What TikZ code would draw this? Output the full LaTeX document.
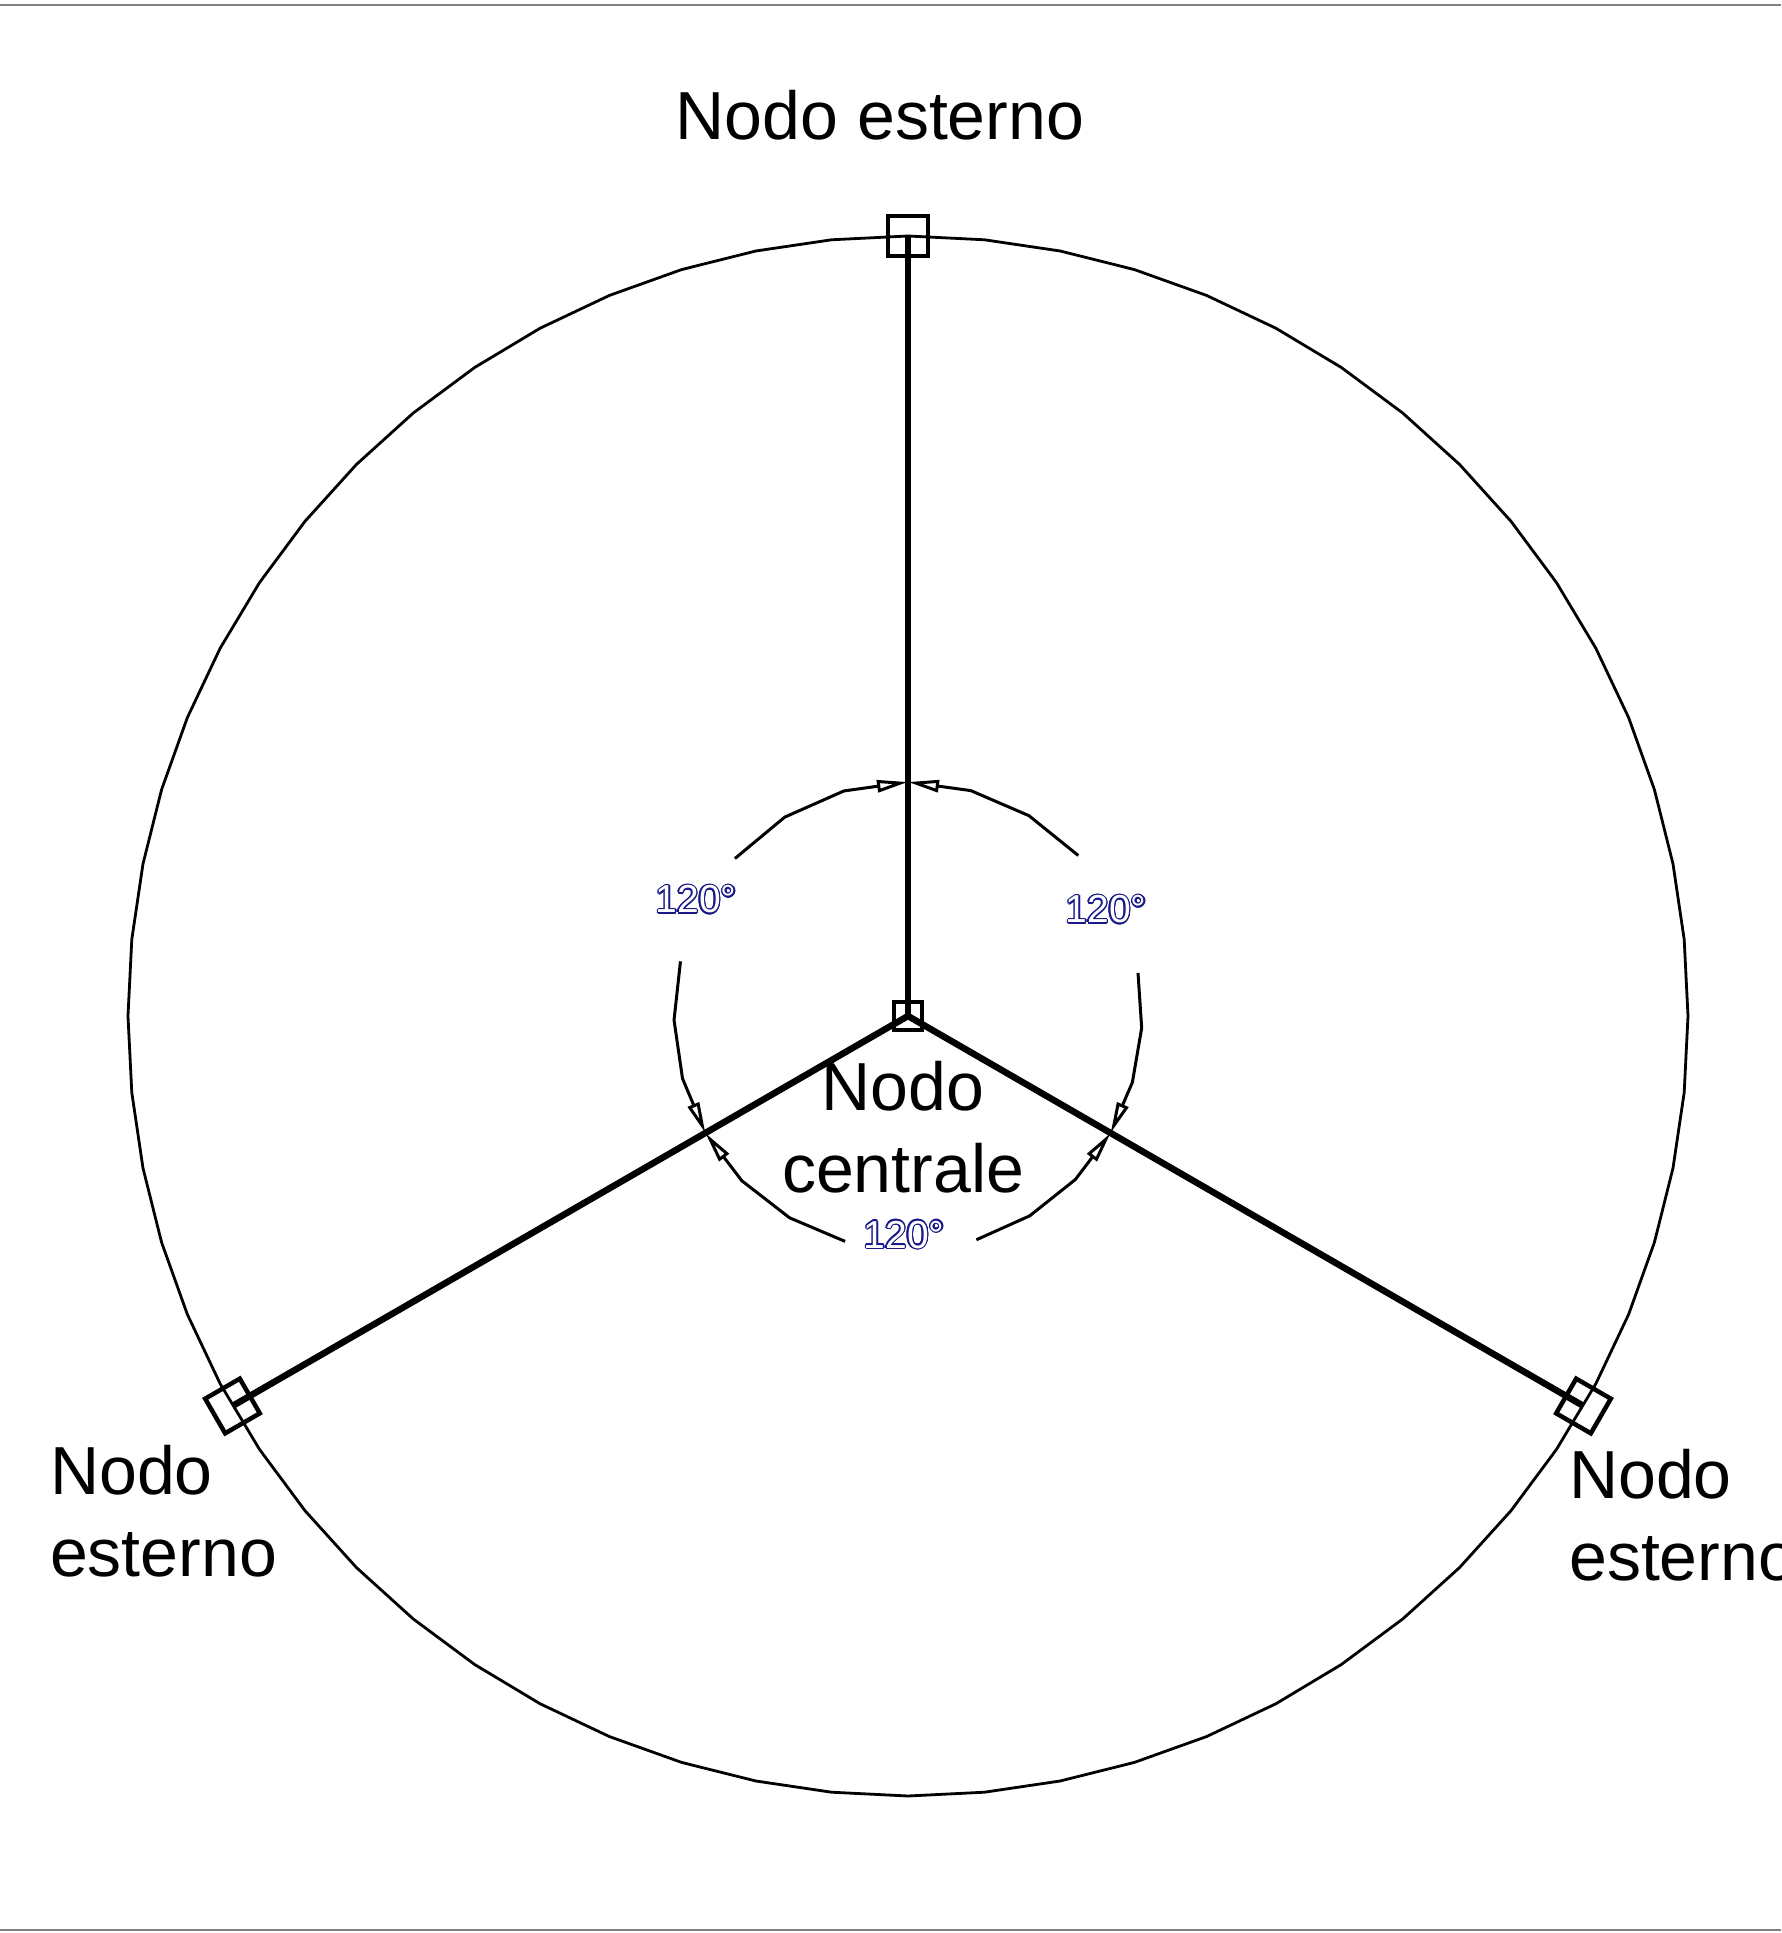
\documentclass[tikz,border=0pt]{standalone}
\usepackage{fontspec}
\setmainfont{Liberation Sans}
\usepackage[copies]{contour}
\contourlength{1.4pt}
\usetikzlibrary{arrows.meta}
\definecolor{blugradi}{RGB}{25,25,135}
\begin{document}
\begin{tikzpicture}[x=1pt,y=1pt,
	ramo/.style={line width=6.5pt},
	nodo/.style={draw,line width=4.5pt,minimum size=40pt,inner sep=0pt},
	quota/.style={line width=3pt,-{Triangle[open,length=31pt,width=12pt]}},
	gradi/.style={font=\fontsize{39}{46}\selectfont,anchor=base,inner sep=0pt},
	etichetta/.style={font=\fontsize{68}{82}\selectfont,inner sep=0pt,align=left}]
			\useasboundingbox (-908,-917) rectangle (873,1016);
			\draw [gray,line width=2pt] (-908,1011)--(873,1011);
			\draw [gray,line width=2pt] (-908,-914)--(873,-914);
			% circonferenza
			\draw [line width=2.8pt] (90:780) \foreach \k in {1,...,63}{ -- (90+\k*5.625:780)} -- cycle;
			% nodi
			\node [nodo,minimum size=28pt] (nc) at (0,0) {};
			\node [nodo] (ne1) at (90:780) {};
			\node [nodo,rotate=30] (ne2) at (210:780) {};
			\node [nodo,rotate=-30] (ne3) at (330:780) {};
			\foreach \n in {ne1,ne2,ne3}{
				\draw [ramo] (nc.center)--(\n.center);
			}
			% quote angolari
			\draw [quota] plot[domain=137.7:90,samples=4] (\x:234);
			\draw [quota] plot[domain=43.3:90,samples=4] (\x:234);
			\draw [quota] plot[domain=166.5:210,samples=4] (\x:234);
			\draw [quota] plot[domain=254.4:210,samples=4] (\x:234);
			\draw [quota] plot[domain=287:330,samples=4] (\x:234);
			\draw [quota] plot[domain=10.6:-30,samples=4] (\x:234);
			\node [gradi] (g1) at (-212,103) {\contour{blugradi}{\textcolor{white}{120°}}};
			\node [gradi] (g2) at (198,93) {\contour{blugradi}{\textcolor{white}{120°}}};
			\node [gradi] (g3) at (-4,-232) {\contour{blugradi}{\textcolor{white}{120°}}};
			% etichette
			\node [etichetta,anchor=base] (tne1) at (-28,876) {Nodo esterno};
			\node [etichetta,anchor=north west] (tne2) at (-858,-429) {Nodo\\esterno};
			\node [etichetta,anchor=north west] (tne3) at (661,-433) {Nodo\\esterno};
			\node [etichetta,align=center,anchor=north] (tnc) at (-5,-45) {Nodo\\centrale};
			\end{tikzpicture}
\end{document}
